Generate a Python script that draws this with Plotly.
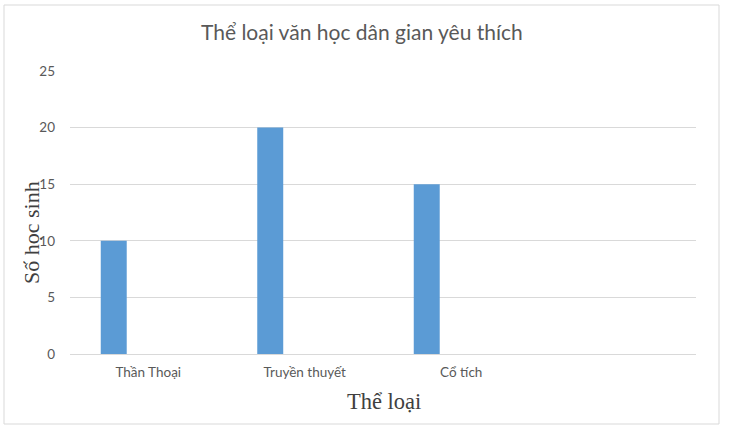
import plotly.graph_objects as go

categories = ["Thần Thoại", "Truyền thuyết", "Cổ tích"]
students = [10, 20, 15]
y_ticks = [0, 5, 10, 15, 20, 25]

W, H = 731, 430
L, R, T, B = 70, 35, 71, 76
pw, ph = W - L - R, H - T - B

def px(x):
    return (x - L) / pw

def py(y):
    return (H - B - y) / ph

fig = go.Figure()
fig.add_trace(go.Bar(
    x=categories, y=students,
    marker=dict(color="#5b9bd5", line=dict(width=0)),
    offset=-0.3035, width=0.166,
    hoverinfo="x+y",
))

fig.update_layout(
    width=W, height=H,
    margin=dict(l=L, r=R, t=T, b=B, pad=0),
    paper_bgcolor="white", plot_bgcolor="white",
    showlegend=False,
    font=dict(family="Lato, Calibri, sans-serif", size=13.5, color="#595959"),
    xaxis=dict(
        type="category", range=[-0.5, 3.5],
        showgrid=False, showline=False, zeroline=False, ticks="",
        tickfont=dict(family="Lato", size=13.5, color="#595959"),
        ticklabelstandoff=8,
    ),
    yaxis=dict(
        range=[0, 25], tickvals=y_ticks,
        showgrid=True, gridcolor="#d9d9d9", gridwidth=1,
        zeroline=True, zerolinecolor="#d9d9d9", zerolinewidth=1,
        showline=False, ticks="",
        tickfont=dict(family="Lato", size=13.5, color="#595959"),
        ticklabelstandoff=14,
    ),
    annotations=[
        dict(text="Thể loại văn học dân gian yêu thích", xref="paper", yref="paper",
             x=px(361.5), y=py(31), xanchor="center", yanchor="middle", showarrow=False,
             font=dict(family="Lato", size=21, color="#595959")),
        dict(text="Số học sinh", xref="paper", yref="paper",
             x=px(31), y=py(233), xanchor="center", yanchor="middle", showarrow=False,
             textangle=-90,
             font=dict(family="Liberation Serif, Times New Roman, serif", size=22, color="#404040")),
        dict(text="Thể loại", xref="paper", yref="paper",
             x=px(384), y=py(401), xanchor="center", yanchor="middle", showarrow=False,
             font=dict(family="Liberation Serif, Times New Roman, serif", size=22.5, color="#404040")),
    ],
    shapes=[
        dict(type="rect", xref="paper", yref="paper",
             x0=px(4), x1=px(719), y0=py(424), y1=py(5),
             line=dict(color="#d9d9d9", width=1), fillcolor="rgba(0,0,0,0)", layer="below"),
    ],
)

fig.write_html("out.html", config={"displayModeBar": False},
               post_script="document.body.style.margin='0';")
